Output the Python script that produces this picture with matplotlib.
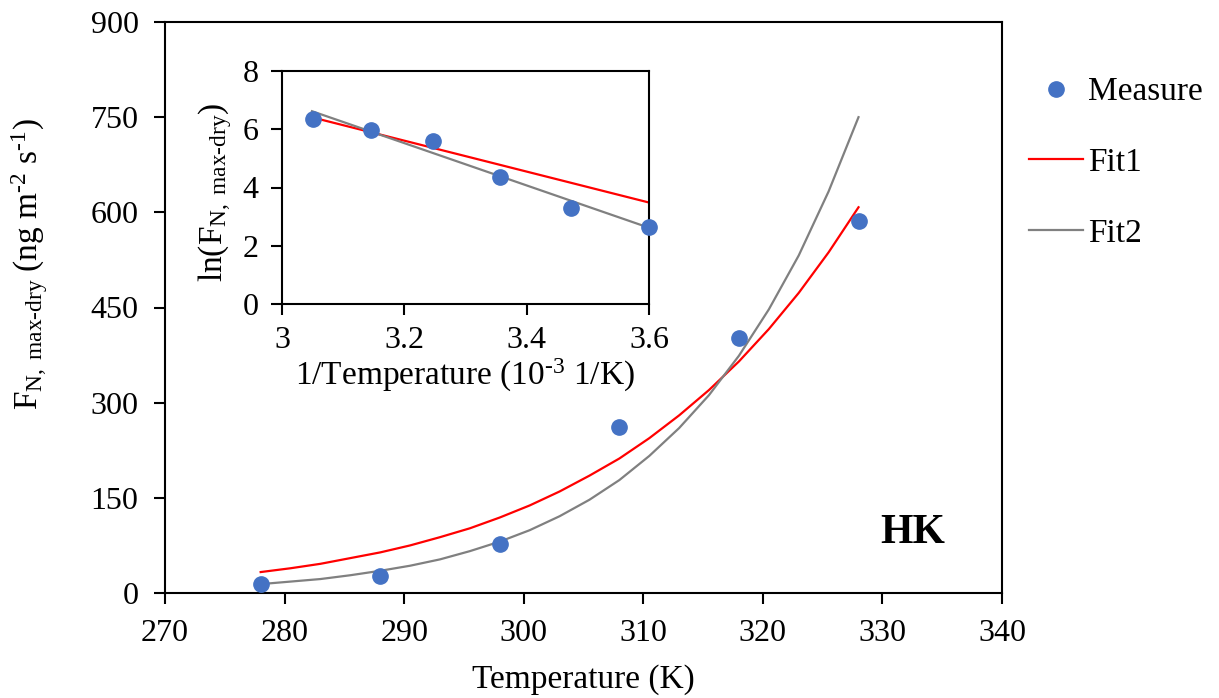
import numpy as np
import matplotlib
matplotlib.use("Agg")
import matplotlib.pyplot as plt

plt.rcParams['font.family'] = ['Liberation Serif', 'DejaVu Serif']
plt.rcParams['mathtext.fontset'] = 'custom'
plt.rcParams['mathtext.rm'] = 'Liberation Serif'
plt.rcParams['mathtext.it'] = 'Liberation Serif:italic'

# measured flux vs temperature
temp = [278, 288, 298, 308, 318, 328]
flux = [14, 27, 77, 262, 402, 586]

# fitted curves
fit_temp = [278, 280.5, 283, 285.5, 288, 290.5, 293, 295.5, 298, 300.5, 303,
            305.5, 308, 310.5, 313, 315.5, 318, 320.5, 323, 325.5, 328]
fit1 = [33, 39, 46, 55, 64, 75, 88, 102, 119, 138, 160,
        185, 212, 244, 280, 320, 365, 416, 473, 537, 608]
fit2 = [14, 18, 22, 28, 35, 43, 53, 66, 81, 99, 121,
        147, 178, 216, 260, 312, 374, 447, 532, 633, 750]

# inset: ln(flux) vs 1/T (10^-3 1/K)
inv_temp = [3.051, 3.146, 3.247, 3.356, 3.473, 3.600]
ln_flux = [6.36, 5.97, 5.58, 4.35, 3.31, 2.66]
fit_inv = [3.049, 3.597]
ln_fit1 = [6.41, 3.50]
ln_fit2 = [6.62, 2.64]

blue = '#4472C4'
red = '#FF0000'
grey = '#808080'

fig = plt.figure(figsize=(12.19, 6.98), dpi=100)
ax = fig.add_axes([165/1219, 1 - 593/698, 837/1219, 571/698])

ax.plot(temp, flux, 'o', color=blue, ms=11, label='Measure', zorder=3)
ax.plot(fit_temp, fit1, '-', color=red, lw=1.6, label='Fit1')
ax.plot(fit_temp, fit2, '-', color=grey, lw=1.6, label='Fit2')

ax.set_xlim(270, 340)
ax.set_ylim(0, 900)
ax.set_xticks(np.arange(270, 341, 10))
ax.set_yticks(np.arange(0, 901, 150))
ax.tick_params(direction='out', length=8, width=1.5, labelsize=23, pad=11)
for s in ax.spines.values():
    s.set_linewidth(1.5)

fig.text(583/1219, 1 - 680/698, 'Temperature (K)', fontsize=24, ha='center', va='center')
fig.text(30/1219, 1 - 264/698,
         r'F$_\mathregular{N,\ max\text{-}dry}$ (ng m$^{\text{-}\mathregular{2}}$ s$^{\text{-}\mathregular{1}}$)',
         fontsize=24, rotation=90, ha='center', va='center')

ax.text(332.5, 95, 'HK', fontsize=30, fontweight='bold', ha='center', va='center')

fig.legend(loc='upper left', bbox_to_anchor=(1029/1219, 1 - 77/698), frameon=False,
           fontsize=24, numpoints=1, handlelength=1.62, handletextpad=0.15,
           labelspacing=1.2, borderpad=0, borderaxespad=0)

# inset
ins = fig.add_axes([282/1219, 1 - 304/698, 367/1219, 233/698])
ins.plot(fit_inv, ln_fit1, '-', color=red, lw=1.6)
ins.plot(fit_inv, ln_fit2, '-', color=grey, lw=1.6)
ins.plot(inv_temp, ln_flux, 'o', color=blue, ms=11, zorder=3, clip_on=False)
ins.set_xlim(3.0, 3.6)
ins.set_ylim(0, 8)
ins.set_xticks([3.0, 3.2, 3.4, 3.6])
ins.set_xticklabels(['3', '3.2', '3.4', '3.6'])
ins.set_yticks([0, 2, 4, 6, 8])
ins.tick_params(direction='out', length=8, width=1.5, labelsize=23)
ins.tick_params(axis='x', pad=8)
ins.tick_params(axis='y', pad=9)
for s in ins.spines.values():
    s.set_linewidth(1.5)
fig.text(465/1219, 1 - 375/698, r'1/Temperature (10$^{\text{-}\mathregular{3}}$ 1/K)',
         fontsize=24, ha='center', va='center')
fig.text(215/1219, 1 - 192/698, r'ln(F$_\mathregular{N,\ max\text{-}dry}$)',
         fontsize=24, rotation=90, ha='center', va='center')

fig.savefig('out.png', dpi=100)
